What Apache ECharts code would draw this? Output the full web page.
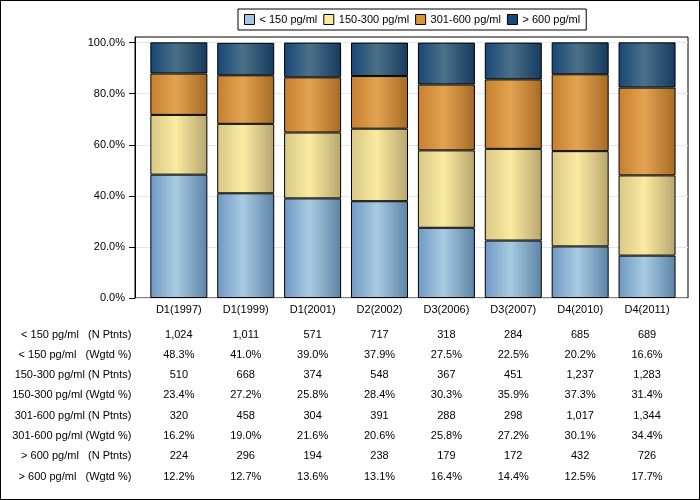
<!DOCTYPE html>
<html>
<head>
<meta charset="utf-8">
<script src="https://cdn.jsdelivr.net/npm/echarts@6/dist/echarts.min.js"></script>
<style>
html,body{margin:0;padding:0;background:#fff;}
#c{width:700px;height:500px;box-sizing:border-box;border:1px solid #000;}
</style>
</head>
<body>
<div id="c"></div>
<script>
const categories = ['D1(1997)','D1(1999)','D1(2001)','D2(2002)','D3(2006)','D3(2007)','D4(2010)','D4(2011)'];
const seriesNames = ['< 150 pg/ml','150-300 pg/ml','301-600 pg/ml','> 600 pg/ml'];
const lt150N = [1024,1011,571,717,318,284,685,689];
const lt150Pct = [48.3,41.0,39.0,37.9,27.5,22.5,20.2,16.6];
const r150N = [510,668,374,548,367,451,1237,1283];
const r150Pct = [23.4,27.2,25.8,28.4,30.3,35.9,37.3,31.4];
const r301N = [320,458,304,391,288,298,1017,1344];
const r301Pct = [16.2,19.0,21.6,20.6,25.8,27.2,30.1,34.4];
const gt600N = [224,296,194,238,179,172,432,726];
const gt600Pct = [12.2,12.7,13.6,13.1,16.4,14.4,12.5,17.7];
const yTicks = [0,20,40,60,80,100];

const FONT = 'Arial, "Liberation Sans", sans-serif';
const grads = [
  ['#6f98c4','#a8cbe2','#5c83a6'],
  ['#d8c786','#fbeaa0','#b7a66f'],
  ['#c67f2e','#e3a451','#a56a25'],
  ['#174676','#4b7189','#163a5e']
];
const legendColors = ['#a3c5e6','#fde8a2','#dc9536','#134a7b'];
function grad(g){
  return {type:'linear',x:0,y:0,x2:1,y2:0,colorStops:[
    {offset:0,color:g[0]},{offset:0.45,color:g[1]},{offset:1,color:g[2]}]};
}
const pctSeries = [lt150Pct,r150Pct,r301Pct,gt600Pct];

const fmtN = v => v.toLocaleString('en-US');
const fmtP = v => v.toFixed(1) + '%';
const tableRows = [
  ['< 150 pg/ml   (N Ptnts)', lt150N.map(fmtN)],
  ['< 150 pg/ml   (Wgtd %)', lt150Pct.map(fmtP)],
  ['150-300 pg/ml (N Ptnts)', r150N.map(fmtN)],
  ['150-300 pg/ml (Wgtd %)', r150Pct.map(fmtP)],
  ['301-600 pg/ml (N Ptnts)', r301N.map(fmtN)],
  ['301-600 pg/ml (Wgtd %)', r301Pct.map(fmtP)],
  ['> 600 pg/ml   (N Ptnts)', gt600N.map(fmtN)],
  ['> 600 pg/ml   (Wgtd %)', gt600Pct.map(fmtP)]
];

const chart = echarts.init(document.getElementById('c'));
const xAxes = [
  {gridIndex:0,type:'category',data:categories,show:false},
  {gridIndex:1,type:'category',data:categories,
   axisLine:{show:false},axisTick:{show:false},
   axisLabel:{color:'#000',fontSize:11,fontFamily:FONT,margin:6,interval:0}}
];
tableRows.forEach((r,i)=>{
  xAxes.push({gridIndex:1,type:'category',data:r[1],position:'bottom',
    offset:36.5+20.3*i,
    axisLine:{show:false},axisTick:{show:false},
    axisLabel:{color:'#000',fontSize:11,fontFamily:FONT,margin:0,verticalAlign:'middle',interval:0},
    name:r[0],nameLocation:'start',nameGap:14,
    nameTextStyle:{color:'#000',fontSize:11,fontFamily:FONT,align:'right',verticalAlign:'middle'}
  });
});

chart.setOption({
  animation:false,
  backgroundColor:'#fff',
  legend:{
    left:237, top:8,
    padding:[5,6,5,6],
    itemGap:6, itemWidth:10, itemHeight:10,
    borderColor:'#000', borderWidth:1,
    icon:'rect',
    textStyle:{color:'#000',fontSize:11,fontFamily:FONT},
    data:seriesNames.map((n,i)=>({name:n,itemStyle:{color:legendColors[i],borderColor:'#000',borderWidth:1}}))
  },
  grid:[
    {left:134,right:11,top:36,bottom:201,show:true,borderColor:'#000',borderWidth:1,backgroundColor:'transparent'},
    {left:144.4,right:18.5,top:36,bottom:201}
  ],
  xAxis:xAxes,
  yAxis:[
    {gridIndex:0,type:'value',min:0,max:102.2,interval:20,
     axisLine:{show:true,lineStyle:{color:'#000'}},
     axisTick:{show:true,length:6,lineStyle:{color:'#000'},customValues:yTicks},
     axisLabel:{color:'#000',fontSize:11,fontFamily:FONT,margin:10,customValues:yTicks,
       formatter:v=> (yTicks.indexOf(v)>=0 ? v.toFixed(1)+'%' : '')},
     splitLine:{show:true,lineStyle:{color:'#e6e6e6',width:1}}},
    {gridIndex:1,type:'value',min:0,max:102.2,show:false,splitLine:{show:false}}
  ],
  series:seriesNames.map((n,i)=>({
    name:n,type:'bar',stack:'all',xAxisIndex:1,yAxisIndex:1,
    barWidth:57,
    data:pctSeries[i],
    itemStyle:{color:grad(grads[i]),borderColor:'#000',borderWidth:1},
    emphasis:{disabled:true}
  }))
});
</script>
</body>
</html>
